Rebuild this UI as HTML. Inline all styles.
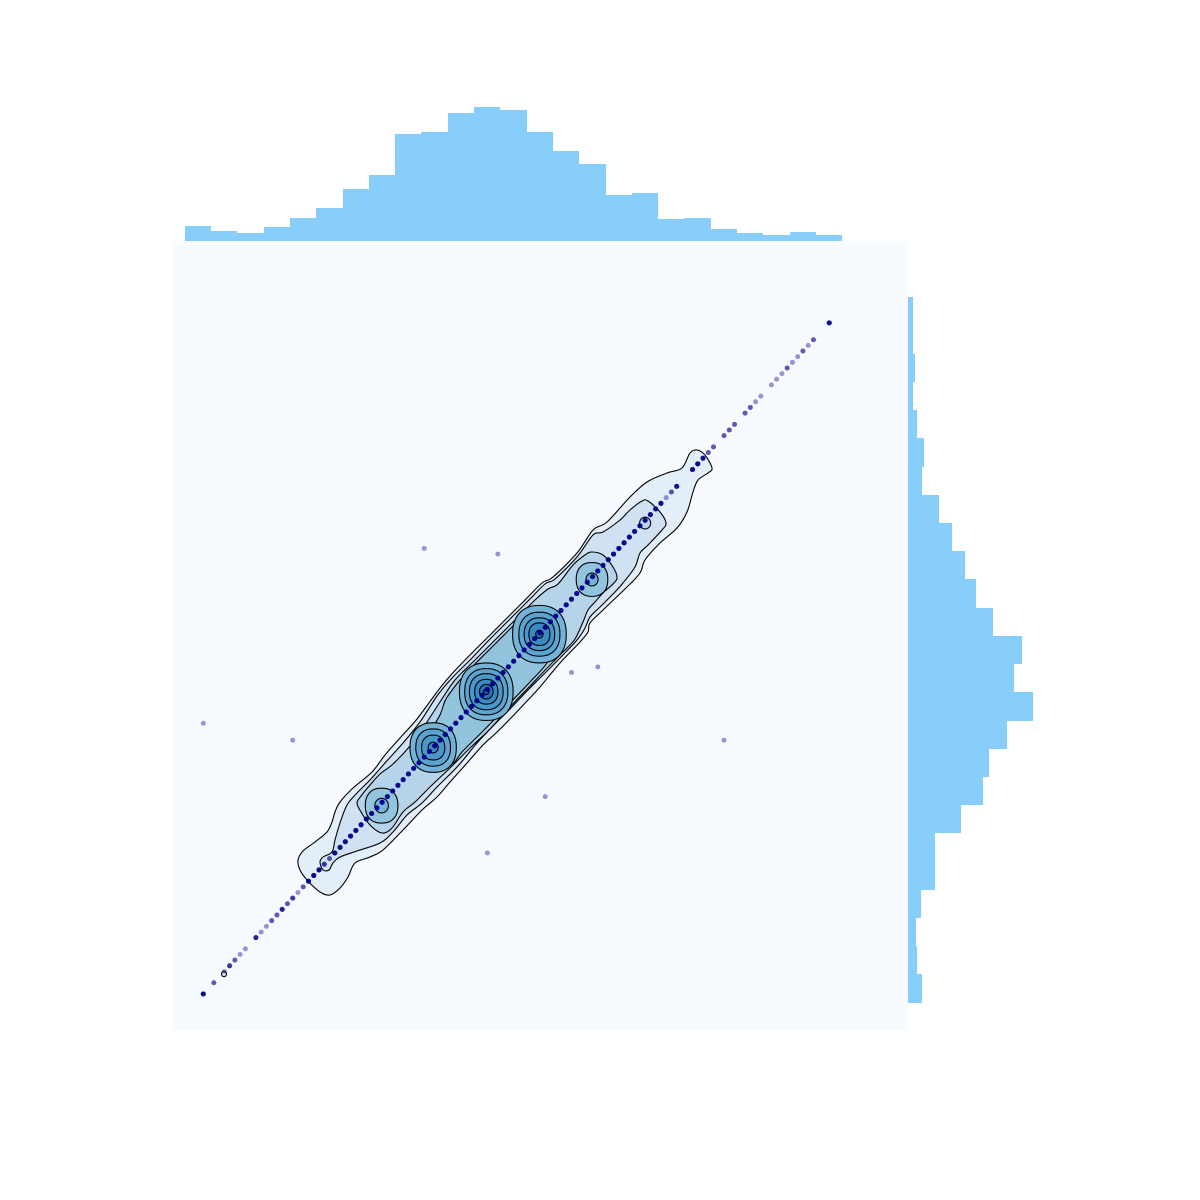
<!DOCTYPE html>
<html lang="en">
<head>
<meta charset="utf-8">
<title>Joint plot with KDE contours and marginal histograms</title>
<style>
html,body{margin:0;padding:0;background:#fff;}
svg{display:block;}
</style>
</head>
<body>
<svg id="chart" xmlns="http://www.w3.org/2000/svg" width="1200" height="1200" viewBox="0 0 1200 1200">
  <rect x="0" y="0" width="1200" height="1200" fill="#ffffff"></rect>
  <rect x="172" y="241" width="736" height="789" fill="#f7fbff"></rect>
  <g id="top-hist"></g>
  <g id="right-hist"></g>
  <g id="kde"></g>
  <g id="scatter"></g>
</svg>
<script>
// Marginal histogram values, in bin order (low to high)
const xBinFrequency = [15,10,8,14,23,33,52,66,107,109,128,134,131,109,90,77,46,48,22,23,12,8,6,9,6];
const yBinFrequency = [14,9,8,13,27,27,53,75,81,99,125,106,114,85,68,57,44,31,14,16,9,5,7,5,5];
const xDataMin = -3.504;
const xDataMax = 121.449;
const yDataMin = -1.525;
const yDataMax = 123.519;

// Points on the diagonal: value and how many observations overlap there
const diagonalValues = [0,2,4,5,6,7,8,10,11,12,13,14,15,16,17,18,19,20,21,22,23,24,25,26,27,28,29,30,31,32,33,34,35,36,37,38,39,40,41,42,43,44,45,46,47,48,49,50,51,52,53,54,55,56,57,58,59,60,61,62,63,64,65,66,67,68,69,70,71,72,73,74,75,76,77,78,79,80,81,82,83,84,85,86,87,88,89,90,93,94,95,96,97,99,100,101,103,104,105,106,108,109,110,111,112,113,114,115,116,119];
const diagonalCounts = [6,2,1,3,2,1,1,4,1,1,2,2,4,2,3,1,2,6,6,6,3,2,6,6,6,6,6,6,6,6,6,6,6,6,6,6,6,6,6,6,6,6,6,6,6,6,6,6,6,6,6,6,6,6,6,6,6,6,6,6,6,6,6,6,6,6,6,6,6,6,6,6,6,6,6,6,6,6,6,6,6,6,6,6,6,1,2,5,6,6,5,2,2,2,2,2,2,2,1,1,1,1,1,2,1,1,2,1,2,5];

// Off-diagonal observations
const outlierX = [42,56,0,17,70,75,99,65,54];
const outlierY = [79,78,48,45,57,58,45,35,25];

// Fill colour for each density level (1 = lowest)
const levelColors = ['#f7fbff','#e3eef8','#cfe1f2','#b5d4e9','#93c4de','#74b3d8','#5ba3d0','#4a98c9','#3a8ac2','#2474b7','#1764ab'];

// KDE contour vertices, in density-grid cells
const kdeLevel1 = [[95,134],[100,143],[112,152],[124,162],[129,172],[132,182],[137,192],[150,206],[169,222],[182,239],[197,256],[214,275],[234,302],[247,318],[267,339],[284,356],[302,374],[322,394],[339,411],[350,417],[374,441],[390,464],[404,472],[427,497],[444,512],[464,521],[479,526],[487,541],[494,544],[502,539],[509,526],[505,521],[495,514],[490,502],[484,482],[474,466],[457,451],[442,434],[437,421],[424,407],[400,384],[387,371],[385,362],[377,352],[357,331],[337,307],[325,294],[307,275],[293,261],[280,249],[264,231],[247,212],[234,197],[219,184],[200,164],[180,144],[167,137],[152,131],[145,117],[137,106],[127,99],[117,102],[104,114],[97,124]];
const kdeLevel2 = [[117,132],[120,137],[129,142],[132,154],[137,171],[144,189],[154,201],[167,214],[182,231],[200,251],[217,272],[234,298],[249,316],[269,336],[287,355],[305,373],[325,393],[342,410],[352,415],[374,437],[390,459],[400,462],[417,474],[427,484],[439,493],[445,493],[457,482],[463,471],[459,464],[445,449],[437,441],[432,427],[420,411],[412,402],[397,387],[387,377],[382,366],[374,354],[357,336],[337,316],[325,304],[307,285],[293,271],[274,251],[255,228],[234,207],[219,191],[204,179],[190,162],[177,151],[154,143],[137,137],[130,131],[126,124],[120,124]];
const kdeLevel3 = [[154,191],[158,198],[167,209],[177,220],[190,230],[207,248],[222,269],[237,292],[252,314],[272,334],[292,354],[312,374],[332,394],[345,405],[355,410],[370,429],[382,439],[389,442],[400,439],[410,427],[414,417],[411,411],[400,401],[392,392],[385,384],[380,372],[372,355],[362,344],[347,329],[327,308],[307,287],[287,265],[267,246],[247,226],[227,207],[212,192],[200,182],[189,166],[179,161],[167,169],[158,182]];
const kdeLevel4 = [[222,256],[229,266],[237,279],[242,293],[247,301],[257,314],[272,330],[292,350],[312,370],[321,379],[337,376],[349,364],[350,348],[344,331],[327,312],[307,291],[287,270],[272,255],[259,242],[249,230],[237,234],[225,242]];
const kdeBands = [
  {level:1, vertices:kdeLevel1},
  {level:2, vertices:kdeLevel2},
  {level:3, vertices:kdeLevel3},
  {level:4, vertices:kdeLevel4}
];

// Density peaks as closed rings, in data units
const ringCenterX = [3.94,84,33.9,73.9,33.9,73.9,43.7,53.8,63.9,43.7,53.8,63.9,43.7,53.8,63.9,43.7,53.8,63.9,53.8,63.9,53.8];
const ringCenterY = [3.55,83.5,33.4,73.5,33.4,73.5,43.7,53.6,63.8,43.7,53.6,63.8,43.7,53.6,63.8,43.7,53.6,63.8,53.6,63.8,53.6];
const ringHalfSize = [0.47,1.05,3.1,3.0,1.3,1.15,4.4,5.1,5.1,3.3,4.1,3.9,2.2,3.2,2.9,0.95,2.2,2.0,1.3,0.7,0.5];
const ringLevel = [1,3,4,4,5,5,5,5,5,6,6,6,7,7,7,8,8,8,9,9,10];

function xScale(v){ return 203.3 + 5.26 * v; }
function yScale(v){ return 994 - 5.64 * v; }
function gridToX(g){ return g / 5.26; }
function gridToY(g){ return g / 5.64; }

const SVG_NS = 'http://www.w3.org/2000/svg';

function closedSpline(pts){
  const n = pts.length;
  let d = 'M' + pts[0][0].toFixed(2) + ' ' + pts[0][1].toFixed(2);
  for (let i = 0; i < n; i++){
    const p0 = pts[(i - 1 + n) % n], p1 = pts[i], p2 = pts[(i + 1) % n], p3 = pts[(i + 2) % n];
    const c1x = p1[0] + (p2[0] - p0[0]) / 6, c1y = p1[1] + (p2[1] - p0[1]) / 6;
    const c2x = p2[0] - (p3[0] - p1[0]) / 6, c2y = p2[1] - (p3[1] - p1[1]) / 6;
    d += 'C' + c1x.toFixed(2) + ' ' + c1y.toFixed(2) + ' ' + c2x.toFixed(2) + ' ' + c2y.toFixed(2) + ' ' + p2[0].toFixed(2) + ' ' + p2[1].toFixed(2);
  }
  return d + 'Z';
}

function ringPoints(cx, cy, half){
  const pts = [];
  const power = half < 2 ? 1 : 2 / 2.3;
  for (let k = 0; k < 48; k++){
    const a = k / 48 * 2 * Math.PI;
    const c = Math.cos(a), s = Math.sin(a);
    const ux = Math.sign(c) * Math.pow(Math.abs(c), power);
    const uy = Math.sign(s) * Math.pow(Math.abs(s), power);
    pts.push([xScale(cx + half * ux), yScale(cy + half * uy)]);
  }
  return pts;
}

function drawTopHistogram(){
  const g = document.getElementById('top-hist');
  const step = (xDataMax - xDataMin) / xBinFrequency.length;
  const baseline = 241;
  xBinFrequency.forEach(function(v, i){
    const x0 = Math.round(xScale(xDataMin + i * step));
    const x1 = Math.round(xScale(xDataMin + (i + 1) * step));
    const r = document.createElementNS(SVG_NS, 'rect');
    r.setAttribute('x', x0);
    r.setAttribute('y', baseline - v);
    r.setAttribute('width', x1 - x0);
    r.setAttribute('height', v);
    r.setAttribute('fill', '#87cefa');
    r.setAttribute('shape-rendering', 'crispEdges');
    
    
    g.appendChild(r);
  });
}

function drawRightHistogram(){
  const g = document.getElementById('right-hist');
  const step = (yDataMax - yDataMin) / yBinFrequency.length;
  const baseline = 908;
  yBinFrequency.forEach(function(v, i){
    const y0 = Math.round(yScale(yDataMin + i * step));
    const y1 = Math.round(yScale(yDataMin + (i + 1) * step));
    const r = document.createElementNS(SVG_NS, 'rect');
    r.setAttribute('x', baseline);
    r.setAttribute('y', y1);
    r.setAttribute('width', v);
    r.setAttribute('height', y0 - y1);
    r.setAttribute('fill', '#87cefa');
    r.setAttribute('shape-rendering', 'crispEdges');
    
    
    g.appendChild(r);
  });
}

function drawKde(){
  const g = document.getElementById('kde');
  function addContour(points, level){
    const p = document.createElementNS(SVG_NS, 'path');
    p.setAttribute('d', closedSpline(points));
    p.setAttribute('fill', levelColors[level]);
    p.setAttribute('stroke', '#000000');
    p.setAttribute('stroke-width', '1.1');
    
    
    g.appendChild(p);
  }
  for (let level = 1; level <= 10; level++){
    kdeBands.forEach(function(b){
      if (b.level === level){
        addContour(b.vertices.map(function(v){
          return [xScale(gridToX(v[0]) - 0.057), yScale(gridToY(v[1]))];
        }), level);
      }
    });
    ringLevel.forEach(function(l, i){
      if (l === level){
        addContour(ringPoints(ringCenterX[i], ringCenterY[i], ringHalfSize[i]), level);
      }
    });
  }
}

function drawScatter(){
  const g = document.getElementById('scatter');
  function addDot(x, y){
    const c = document.createElementNS(SVG_NS, 'circle');
    c.setAttribute('cx', xScale(x).toFixed(2));
    c.setAttribute('cy', yScale(y).toFixed(2));
    c.setAttribute('r', '2.5');
    c.setAttribute('fill', '#00008b');
    c.setAttribute('fill-opacity', '0.4');
    
    
    g.appendChild(c);
  }
  diagonalValues.forEach(function(v, i){
    for (let k = 0; k < diagonalCounts[i]; k++){
      addDot(v, v);
    }
  });
  outlierX.forEach(function(x, i){
    addDot(x, outlierY[i]);
  });
}

drawTopHistogram();
drawRightHistogram();
drawKde();
drawScatter();
</script>
</body>
</html>
